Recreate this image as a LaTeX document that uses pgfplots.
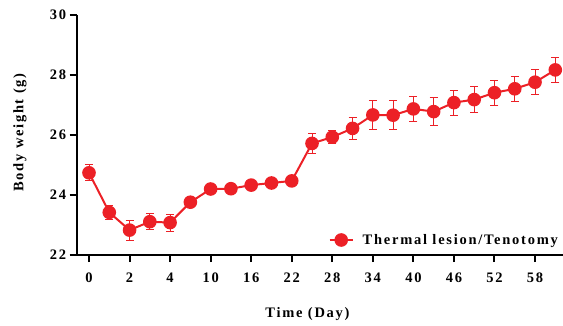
\documentclass[border=0pt]{standalone}
\usepackage{fontspec}
\setmainfont{Liberation Serif}[LetterSpace=12]
\usepackage{pgfplots}
\pgfplotsset{compat=1.18}
\definecolor{myred}{RGB}{236,32,38}
\newcommand{\lblfont}{\fontsize{14.5bp}{17bp}\selectfont\bfseries}
\begin{document}
\begin{tikzpicture}
\useasboundingbox (-76.7bp,-71bp) rectangle (486.3bp,255bp);
\begin{axis}[at={(0,0)}, anchor=south west, scale only axis,
 width=486.3bp, height=240bp,
 xmin=-0.607, xmax=23.38, ymin=22, ymax=30,
 axis lines=left, axis line style={-, line width=2.2bp},
 clip=false,
 xtick={0,2,...,22}, xticklabels={0,2,4,10,16,22,28,34,40,46,52,58},
 ytick={22,24,...,30},
 tick align=outside, major tick length=7bp,
 tick style={line width=2bp, black},
 /pgf/number format/assume math mode=true,
 tick label style={font=\lblfont},
 xticklabel style={yshift=-7bp},
 label style={font=\lblfont},
 xlabel={Time (Day)}, ylabel={Body weight (g)},
 xlabel style={at={(axis description cs:0.4746,-0.244)}, anchor=center},
 ylabel style={at={(axis description cs:-0.1166,0.51)}, anchor=center},
 legend style={at={(1.0,0.0625)}, anchor=east, draw=none, fill=none, font=\lblfont},
 legend image code/.code={\draw[mark repeat=2,mark phase=2,#1] plot coordinates {(0bp,0bp) (11.5bp,0bp) (23bp,0bp)}; \path (30bp,0bp);},
]
\addplot[color=myred, line width=2bp, mark=*, mark size=5.8bp, mark options={solid, fill=myred, draw=myred},
 error bars/.cd, y dir=both, y explicit,
 error bar style={line width=1bp, myred},
 error mark options={rotate=90, mark size=4bp, line width=1bp, myred}]
 table[x=i, y=w, y error=e] {
i w e
0 24.74 0.27
1 23.42 0.24
2 22.83 0.33
3 23.11 0.26
4 23.08 0.28
5 23.76 0.15
6 24.20 0.15
7 24.21 0.15
8 24.33 0.15
9 24.40 0.16
10 24.47 0.15
11 25.72 0.33
12 25.93 0.22
13 26.22 0.37
14 26.67 0.48
15 26.66 0.49
16 26.87 0.41
17 26.78 0.47
18 27.08 0.42
19 27.18 0.43
20 27.41 0.41
21 27.54 0.41
22 27.76 0.41
23 28.17 0.42
};
\addlegendentry{Thermal lesion/Tenotomy}
\end{axis}
\end{tikzpicture}
\end{document}
